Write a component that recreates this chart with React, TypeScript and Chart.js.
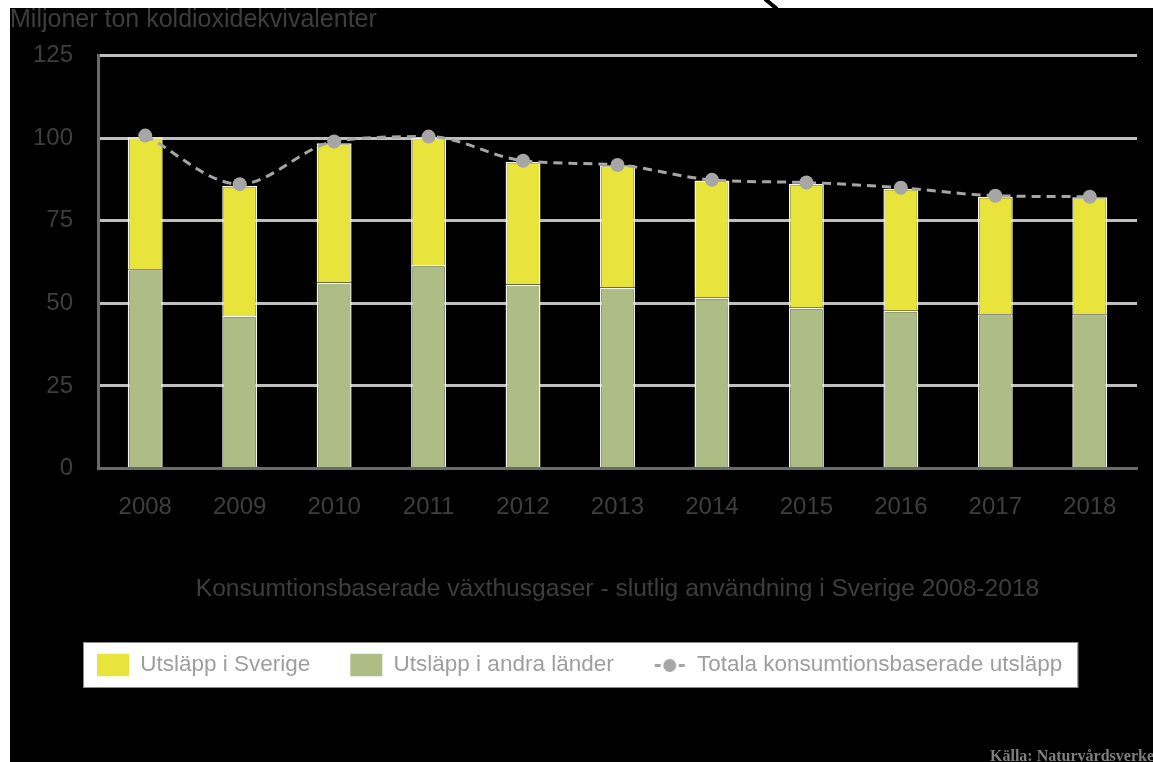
import React, { useEffect, useRef } from 'react';
import { Chart, registerables } from 'chart.js';

Chart.register(...registerables);

const years = ['2008', '2009', '2010', '2011', '2012', '2013', '2014', '2015', '2016', '2017', '2018'];
const utslappSverige = [40.0, 39.4, 42.2, 38.6, 37.2, 37.0, 35.5, 37.5, 36.9, 35.6, 35.4];
const utslappAndraLander = [60.3, 46.2, 56.3, 61.6, 55.7, 54.8, 51.7, 48.7, 47.8, 46.7, 46.7];
const totalaUtslapp = [100.8, 86.1, 99.0, 100.5, 93.2, 91.9, 87.4, 86.6, 85.0, 82.6, 82.3];
const yTickValues = [0, 25, 50, 75, 100, 125];

const seriesNames = ['Utsläpp i Sverige', 'Utsläpp i andra länder', 'Totala konsumtionsbaserade utsläpp'];
const yAxisTitle = 'Miljoner ton koldioxidekvivalenter';
const xAxisTitle = 'Konsumtionsbaserade växthusgaser - slutlig användning i Sverige 2008-2018';
const sourceText = 'Källa: Naturvårdsverket';

const YELLOW = '#e9e43c';
const GREEN = '#adbd85';
const GREY = '#a6a6a6';
const TEXT = '#3e3e3e';
const LEGEND_TEXT = '#9e9e9e';
const FONT = '"Liberation Sans", Arial, sans-serif';

function makeLineSymbol(): HTMLCanvasElement {
  const c = document.createElement('canvas');
  c.width = 32;
  c.height = 22;
  const g = c.getContext('2d')!;
  g.fillStyle = GREY;
  g.fillRect(1, 10, 6, 3);
  g.fillRect(25, 10, 6, 3);
  g.beginPath();
  g.arc(16, 11.5, 6.5, 0, Math.PI * 2);
  g.fill();
  return c;
}

export default function App() {
  const ref = useRef<HTMLCanvasElement | null>(null);

  useEffect(() => {
    if (!ref.current) return;
    const lineSymbol = makeLineSymbol();

    const framePlugin = {
      id: 'frame',
      afterLayout(chart: any) {
        const lg = chart.legend;
        if (!lg || !lg.lineWidths) return;
        const pad = lg.options.labels.padding;
        const start = (lg.left + pad + lg.right - lg.lineWidths[0]) / 2;
        const shift = 97 - start;
        lg.left += shift;
        lg.right += shift;
      },
      beforeDraw(chart: any) {
        const ctx = chart.ctx;
        const W = chart.width;
        const H = chart.height;
        ctx.save();
        ctx.fillStyle = '#ffffff';
        ctx.fillRect(0, 0, W, H);
        ctx.fillStyle = '#000000';
        ctx.fillRect(10, 8, W - 10, H - 8);
        ctx.strokeStyle = '#000000';
        ctx.lineWidth = 4;
        ctx.beginPath();
        ctx.moveTo(765, -1);
        ctx.lineTo(777, 9);
        ctx.stroke();
        const lg = chart.legend;
        if (lg && lg.legendHitBoxes && lg.legendHitBoxes.length) {
          const hb = lg.legendHitBoxes;
          const first = hb[0];
          const last = hb[hb.length - 1];
          const cy = 665;
          const x0 = first.left - 14;
          const x1 = last.left + last.width + 16;
          ctx.fillStyle = '#ffffff';
          ctx.fillRect(x0, cy - 23, x1 - x0, 46);
          ctx.strokeStyle = '#8a8a8a';
          ctx.lineWidth = 1;
          ctx.strokeRect(x0 + 0.5, cy - 23 + 0.5, x1 - x0 - 1, 45);
        }
        ctx.restore();
      },
      afterDraw(chart: any) {
        const ctx = chart.ctx;
        ctx.save();
        ctx.font = 'bold 16px "Liberation Serif", serif';
        ctx.fillStyle = '#7f7f7f';
        ctx.textBaseline = 'alphabetic';
        ctx.textAlign = 'left';
        ctx.fillText(sourceText, 990, 761);
        ctx.restore();
      },
    };

    const chart = new Chart(ref.current, {
      type: 'bar',
      data: {
        labels: years,
        datasets: [
          {
            type: 'bar',
            label: seriesNames[1],
            data: utslappAndraLander,
            backgroundColor: GREEN,
            borderColor: '#f4f4f4',
            borderWidth: 1.5,
            stack: 'bars',
            barPercentage: 0.37,
            categoryPercentage: 1,
            order: 1,
          },
          {
            type: 'bar',
            label: seriesNames[0],
            data: utslappSverige,
            backgroundColor: YELLOW,
            borderColor: '#f4f4f4',
            borderWidth: 1.5,
            stack: 'bars',
            barPercentage: 0.37,
            categoryPercentage: 1,
            order: 1,
          },
          {
            type: 'line',
            label: seriesNames[2],
            data: totalaUtslapp,
            borderColor: GREY,
            borderWidth: 3,
            borderDash: [9, 6],
            pointRadius: 7,
            pointBackgroundColor: GREY,
            pointBorderWidth: 0,
            cubicInterpolationMode: 'monotone',
            stack: 'line',
            order: 0,
          } as any,
        ],
      },
      options: {
        animation: false,
        responsive: false,
        devicePixelRatio: 1,
        layout: { padding: { left: 10, right: 16, top: 5.4, bottom: 75.75 } },
        plugins: {
          tooltip: { enabled: false },
          title: {
            display: true,
            text: yAxisTitle,
            align: 'start',
            color: TEXT,
            font: { family: FONT, size: 25, weight: 'normal' },
            padding: { top: 0, bottom: 20.3 },
          },
          legend: {
            display: true,
            position: 'bottom',
            labels: {
              usePointStyle: true,
              pointStyleWidth: 32,
              boxHeight: 23,
              padding: 40,
              color: LEGEND_TEXT,
              font: { family: FONT, size: 22.5 },
              generateLabels: () => [
                { text: seriesNames[0], fillStyle: YELLOW, strokeStyle: YELLOW, fontColor: LEGEND_TEXT, lineWidth: 0, pointStyle: 'rect', hidden: false, datasetIndex: 1 },
                { text: seriesNames[1], fillStyle: GREEN, strokeStyle: GREEN, fontColor: LEGEND_TEXT, lineWidth: 0, pointStyle: 'rect', hidden: false, datasetIndex: 0 },
                { text: seriesNames[2], fillStyle: GREY, strokeStyle: GREY, fontColor: LEGEND_TEXT, lineWidth: 0, pointStyle: lineSymbol, hidden: false, datasetIndex: 2 },
              ] as any,
            },
          },
        },
        scales: {
          x: {
            stacked: true,
            grid: { display: false, drawTicks: false },
            border: { display: true, color: '#6a6a6a', width: 3 },
            ticks: { color: TEXT, font: { family: FONT, size: 24 }, padding: 24 },
            title: {
              display: true,
              text: xAxisTitle,
              color: TEXT,
              font: { family: FONT, size: 24.6 },
              padding: { top: 0, bottom: 10 },
            },
            afterFit: (s: any) => {
              s.height = 145.25;
            },
          },
          y: {
            stacked: true,
            min: 0,
            max: 125,
            afterBuildTicks: (s: any) => {
              s.ticks = yTickValues.map((v) => ({ value: v }));
            },
            ticks: { color: TEXT, font: { family: FONT, size: 24 }, padding: 25 },
            grid: {
              drawTicks: false,
              lineWidth: 3,
              color: (c: any) => (c.tick && c.tick.value === 0 ? 'rgba(0,0,0,0)' : '#bfbfbf'),
            },
            border: { display: true, color: '#6a6a6a', width: 3 },
            afterFit: (s: any) => {
              s.width = 88;
            },
          },
        },
      },
      plugins: [framePlugin],
    } as any);

    return () => chart.destroy();
  }, []);

  return (
    <div style={{ position: 'absolute', left: 0, top: 0, width: 1153, height: 762, overflow: 'hidden' }}>
      <canvas ref={ref} width={1153} height={762} style={{ display: 'block', width: 1153, height: 762 }} />
    </div>
  );
}
